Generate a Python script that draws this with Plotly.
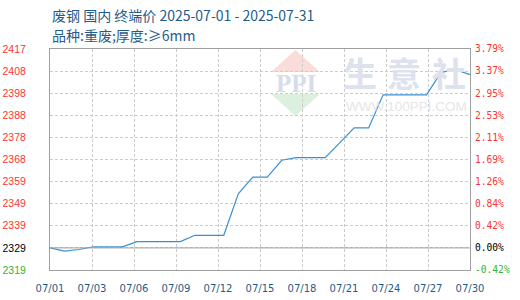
import numpy as np
import pandas as pd
import plotly.graph_objects as go

# ---- data ----
dates = pd.date_range("2025-07-01", "2025-07-30", freq="D")
prices = [2329, 2327.6, 2328.3, 2329.5, 2329.5, 2329.5, 2331.8, 2331.8, 2331.8, 2331.8,
          2334.6, 2334.6, 2334.6, 2353.1, 2360.5, 2360.5, 2368.0, 2369.2, 2369.2, 2369.2,
          2375.7, 2382.4, 2382.4, 2397.1, 2397.1, 2397.1, 2397.1, 2407.1, 2408.3, 2406.1]
base_price = 2329
y_min, y_max = 2319.17, 2417.5
left_labels = ["2319", "2329", "2339", "2349", "2359", "2368", "2378", "2388", "2398", "2408", "2417"]
right_labels = ["-0.42%", "0.00%", "0.42%", "0.84%", "1.26%", "1.69%", "2.11%", "2.53%", "2.95%", "3.37%", "3.79%"]
x_labels = ["07/01", "07/03", "07/06", "07/09", "07/12", "07/15", "07/18", "07/21", "07/24", "07/27", "07/30"]
title_line1 = "废钢 国内 终端价 2025-07-01 - 2025-07-31"
title_line2 = "品种:重废;厚度:≥6mm"

RED, GREEN, BLACK = "#ff3333", "#33b533", "#000000"
TXT = "#1f5c8b"
GRID = "#cccccc"
FRAME = "#a0a0a0"

ytick_vals = list(np.linspace(y_min, y_max, len(left_labels)))


def colorize(labels):
    out = []
    for i, t in enumerate(labels):
        c = GREEN if i == 0 else (BLACK if i == 1 else RED)
        out.append(f"<span style='color:{c}'>{t}</span>")
    return out


x0, x1 = dates[0], dates[-1]
xtick_vals = pd.to_datetime(np.linspace(x0.value, x1.value, len(x_labels)))

fig = go.Figure()
fig.add_trace(go.Scatter(x=dates, y=prices, mode="lines",
                         line=dict(color="#3b90d3", width=1.2), hoverinfo="skip",
                         showlegend=False))
fig.add_trace(go.Scatter(x=dates, y=prices, mode="lines", yaxis="y2",
                         line=dict(color="rgba(0,0,0,0)", width=0), hoverinfo="skip",
                         showlegend=False))

# plot area pixel helpers (for decoration placement only)
L, R, T, B = 50, 470, 49, 270
def px(x):
    return (x - L) / (R - L)
def py(y):
    return (B - y) / (B - T)

shapes = [
    # watermark diamond
    dict(type="path", xref="paper", yref="paper", layer="below", line=dict(width=0),
         fillcolor="#fadcd8",
         path=f"M {px(295.5)},{py(50)} L {px(271)},{py(72)} L {px(320)},{py(72)} Z"),
    dict(type="path", xref="paper", yref="paper", layer="below", line=dict(width=0),
         fillcolor="#dcf0de",
         path=f"M {px(271)},{py(94)} L {px(320)},{py(94)} L {px(295.5)},{py(116)} Z"),
    # zero (base) line
    dict(type="line", xref="paper", yref="y", x0=0, x1=1, y0=base_price, y1=base_price,
         line=dict(color=FRAME, width=1), layer="above"),
]

annotations = [
    dict(text=title_line1, xref="paper", yref="paper", x=0, y=py(15), xanchor="left",
         yanchor="middle", showarrow=False,
         font=dict(family="Noto Sans CJK SC", size=14, color=TXT)),
    dict(text=title_line2, xref="paper", yref="paper", x=0, y=py(35), xanchor="left",
         yanchor="middle", showarrow=False,
         font=dict(family="Noto Sans CJK SC", size=14, color=TXT)),
    dict(text="PPI", xref="paper", yref="paper", x=px(295.5), y=py(83.5), xanchor="center",
         yanchor="middle", showarrow=False,
         font=dict(family="Liberation Serif", size=25, color="#d6dcea", weight=700)),
    dict(text="WWW.100PPI.COM", xref="paper", yref="paper", x=px(406), y=py(106),
         xanchor="center", yanchor="middle", showarrow=False,
         font=dict(family="Liberation Sans", size=13.5, color="#e6e6e6")),
]
for ch, cx in zip("生意社", [360, 403.5, 449]):
    annotations.append(dict(text=ch, xref="paper", yref="paper", x=px(cx), y=py(72.5),
                            xanchor="center", yanchor="middle", showarrow=False,
                            font=dict(family="Noto Sans CJK SC", size=34, color="#dde2ec",
                                      weight=700)))

fig.update_layout(
    width=520, height=300,
    margin=dict(l=L, r=520 - R, t=T, b=300 - B, pad=0),
    paper_bgcolor="white", plot_bgcolor="white",
    shapes=shapes, annotations=annotations,
    xaxis=dict(type="date", range=[x0, x1], tickvals=xtick_vals, ticktext=x_labels,
               automargin=False,
               showgrid=True, gridcolor=GRID, griddash="3px,2px", gridwidth=1,
               showline=True, linecolor=FRAME, linewidth=1, mirror=True,
               ticks="", ticklabelstandoff=9, zeroline=False,
               tickfont=dict(family="DejaVu Sans", size=10, color=TXT)),
    yaxis=dict(range=[y_min, y_max], tickvals=ytick_vals, ticktext=colorize(left_labels),
               automargin=False,
               showgrid=True, gridcolor=GRID, griddash="3px,2px", gridwidth=1,
               showline=True, linecolor=FRAME, linewidth=1, mirror=True,
               ticks="", ticklabelstandoff=21, zeroline=False,
               tickfont=dict(family="Liberation Sans", size=10.5, color=RED)),
    yaxis2=dict(range=[y_min, y_max], tickvals=ytick_vals, ticktext=colorize(right_labels),
                automargin=False,
                overlaying="y", side="right", showgrid=False, zeroline=False,
                showline=False, ticks="", ticklabelstandoff=4,
                tickfont=dict(family="DejaVu Sans Mono", size=9.6, color=RED)),
    hovermode=False,
)

fig.write_html("out.html")
